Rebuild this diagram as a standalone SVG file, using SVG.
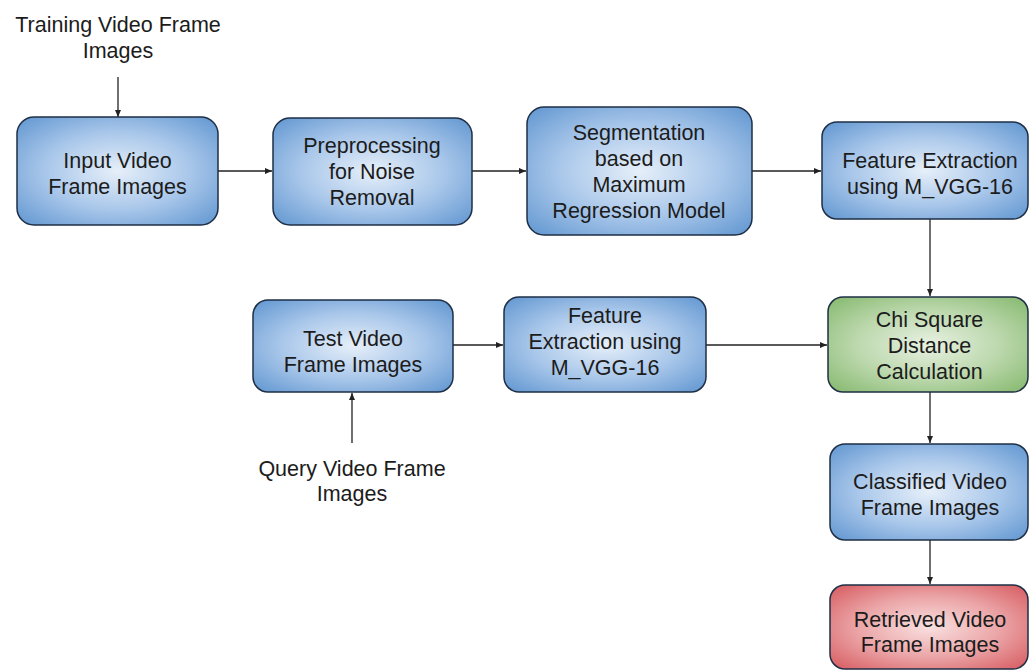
<svg xmlns="http://www.w3.org/2000/svg" width="1029" height="671" viewBox="0 0 1029 671">
<defs>
<radialGradient id="gBlue" cx="50%" cy="50%" r="65%">
<stop offset="0%" stop-color="#e6eff9"/>
<stop offset="55%" stop-color="#a9c7ea"/>
<stop offset="100%" stop-color="#6b9dd4"/>
</radialGradient>
<radialGradient id="gGreen" cx="50%" cy="50%" r="65%">
<stop offset="0%" stop-color="#e8f1e2"/>
<stop offset="55%" stop-color="#bcd8ad"/>
<stop offset="100%" stop-color="#8dbd77"/>
</radialGradient>
<radialGradient id="gRed" cx="50%" cy="50%" r="65%">
<stop offset="0%" stop-color="#f9e0e0"/>
<stop offset="55%" stop-color="#eba5a7"/>
<stop offset="100%" stop-color="#d9656a"/>
</radialGradient>
<marker id="arr" markerWidth="8" markerHeight="8" refX="7" refY="4" orient="auto" markerUnits="userSpaceOnUse">
<path d="M0,1 L7,4 L0,7 Z" fill="#222"/>
</marker>
</defs>
<style>
.box{stroke:#1e2f45;stroke-width:1.5}
.blue{fill:url(#gBlue)}
.green{fill:url(#gGreen)}
.red{fill:url(#gRed)}
text{font-family:"Liberation Sans",Arial,sans-serif;font-size:21.5px;fill:#1c1c1c;text-anchor:middle}
.c{fill:none;stroke:#222;stroke-width:1.3;marker-end:url(#arr)}
</style>
<rect width="1029" height="671" fill="#ffffff"/>
<g id="connectors">
<line class="c" x1="118" y1="77" x2="118" y2="117"/>
<line class="c" x1="218" y1="171" x2="272" y2="171"/>
<line class="c" x1="472" y1="171" x2="526" y2="171"/>
<line class="c" x1="752" y1="171" x2="821" y2="171"/>
<line class="c" x1="930" y1="219" x2="930" y2="296"/>
<line class="c" x1="453" y1="345" x2="503" y2="345"/>
<line class="c" x1="706" y1="345" x2="827" y2="345"/>
<line class="c" x1="930" y1="392" x2="930" y2="443"/>
<line class="c" x1="930" y1="540" x2="930" y2="584"/>
<line class="c" x1="352" y1="443" x2="352" y2="393"/>
</g>
<g id="training-label">
<text x="118" y="32">Training Video Frame</text>
<text x="118" y="58">Images</text>
</g>
<g id="query-label">
<text x="352" y="476">Query Video Frame</text>
<text x="352" y="501">Images</text>
</g>
<g id="input">
<rect class="box blue" x="17" y="117" width="201" height="108" rx="17"/>
<text x="117.5" y="168">Input Video</text>
<text x="117.5" y="194">Frame Images</text>
</g>
<g id="preprocessing">
<rect class="box blue" x="273" y="118" width="199" height="107" rx="17"/>
<text x="372" y="153">Preprocessing</text>
<text x="372" y="179">for Noise</text>
<text x="372" y="205">Removal</text>
</g>
<g id="segmentation">
<rect class="box blue" x="527" y="107" width="225" height="128" rx="17"/>
<text x="639" y="140">Segmentation</text>
<text x="639" y="166">based on</text>
<text x="639" y="192">Maximum</text>
<text x="639" y="218">Regression Model</text>
</g>
<g id="feature-train">
<rect class="box blue" x="822" y="122" width="206" height="97" rx="15"/>
<text x="930" y="168">Feature Extraction</text>
<text x="930" y="194">using M_VGG-16</text>
</g>
<g id="test">
<rect class="box blue" x="253" y="300" width="200" height="92" rx="15"/>
<text x="353" y="346">Test Video</text>
<text x="353" y="372">Frame Images</text>
</g>
<g id="feature-test">
<rect class="box blue" x="504" y="297" width="202" height="95" rx="15"/>
<text x="605" y="323">Feature</text>
<text x="605" y="349">Extraction using</text>
<text x="605" y="375">M_VGG-16</text>
</g>
<g id="chi">
<rect class="box green" x="828" y="297" width="200" height="95" rx="15"/>
<text x="929.5" y="327">Chi Square</text>
<text x="929.5" y="353">Distance</text>
<text x="929.5" y="379">Calculation</text>
</g>
<g id="classified">
<rect class="box blue" x="830" y="444" width="198" height="96" rx="15"/>
<text x="930" y="489">Classified Video</text>
<text x="930" y="515">Frame Images</text>
</g>
<g id="retrieved">
<rect class="box red" x="830" y="585" width="198" height="84" rx="15"/>
<text x="930" y="627">Retrieved Video</text>
<text x="930" y="652">Frame Images</text>
</g>
</svg>
